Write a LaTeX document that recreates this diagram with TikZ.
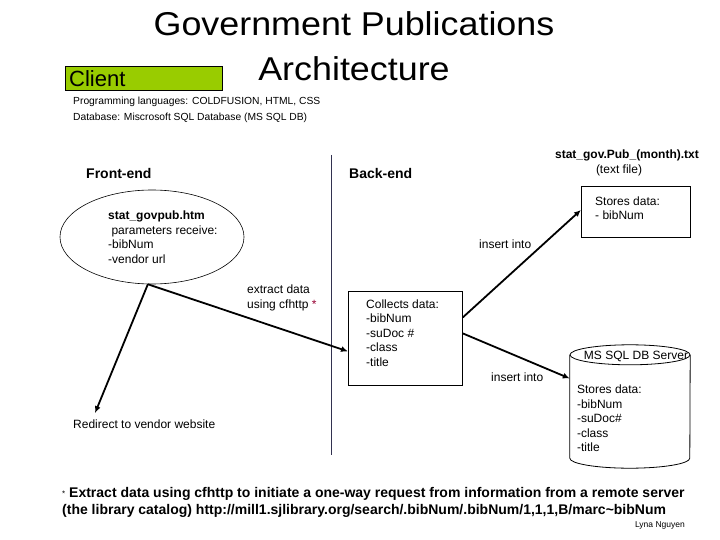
\documentclass[tikz,border=0pt]{standalone}
\usepackage{fontspec}
\setmainfont{Liberation Sans}
\usepackage{tikz}
\usetikzlibrary{shapes.geometric, arrows.meta, positioning, calc}
\definecolor{clientgreen}{RGB}{153,204,0}
\definecolor{divider}{RGB}{50,50,80}
\definecolor{starred}{RGB}{150,0,50}
\tikzset{
  txt/.style={anchor=base west, inner sep=0pt, font=\fontsize{12}{14.5}\selectfont, align=left},
  smalltxt/.style={anchor=base west, inner sep=0pt, font=\fontsize{10.3}{12}\selectfont},
  heading/.style={anchor=base west, inner sep=0pt, font=\fontsize{14}{16}\selectfont\bfseries},
  databox/.style={rectangle, draw, line width=0.8pt, anchor=north west, inner sep=0pt},
  flow/.style={-{Latex[length=7pt,width=6pt]}, line width=1.8pt, color=black}
}

\begin{document}
\begin{tikzpicture}[x=1pt, y=-1pt]
  \useasboundingbox (0,0) rectangle (720,540);

  % Title and client tag
  \node[font=\fontsize{33}{45}\selectfont, align=center, anchor=base, inner sep=0pt] (title) at (354,81)
    {\scalebox{1.087}[1]{Government Publications}\\\scalebox{1.087}[1]{Architecture}};
  \node[draw, fill=clientgreen, line width=0.8pt, anchor=north west, minimum width=157, minimum height=24, inner sep=0pt] (client) at (65,66) {};
  \node[anchor=base west, inner sep=0pt, font=\fontsize{22}{24}\selectfont] (clientlbl) at (69,87) {Client};

  % Tools used
  \node[smalltxt] (langs) at (73,105) {Programming languages: COLDFUSION, HTML, CSS};
  \node[smalltxt] (dbase) at (73,121) {Database: Miscrosoft SQL Database (MS SQL DB)};

  % Front-end / Back-end split
  \node[heading] (fronthd) at (86,179) {Front-end};
  \node[heading] (backhd) at (349,179) {Back-end};
  \coordinate (divtop) at (331,155);
  \coordinate (divbot) at (331,455);
  \draw[divider, line width=1pt] (divtop) -- (divbot);

  % Front-end page
  \node[ellipse, draw, line width=0.6pt, minimum width=184, minimum height=94] (govpub) at (152,237) {};
  \node[txt] (govpubtxt) at (108,263)
    {\textbf{stat\_govpub.htm}\\ \ parameters receive:\\-bibNum\\-vendor url};
  \node[txt] (redirect) at (73,428) {Redirect to vendor website};
  \coordinate (redirtip) at ($(redirect.north west)+(22,-6)$);

  % Back-end collector
  \node[databox, minimum width=114, minimum height=94] (collect) at (348,291) {};
  \node[txt] (collecttxt) at ($(collect.north west)+(18,75)$)
    {Collects data:\\-bibNum\\-suDoc \#\\-class\\-title};
  \node[txt] (extract) at (247,308) {extract data\\using cfhttp {\color{starred}*}};

  % Text file store
  \node[anchor=base, inner sep=0pt, font=\fontsize{12}{14}\selectfont\bfseries] (txtname) at (627,159) {stat\_gov.Pub\_(month).txt};
  \node[txt, anchor=base] (txtkind) at (619,174) {(text file)};
  \node[databox, minimum width=109, minimum height=51] (txtfile) at (581,186) {};
  \node[txt] (txtfiletxt) at ($(txtfile.north west)+(14,34)$) {Stores data:\\- bibNum};

  % SQL server
  \node[minimum width=120, minimum height=123, inner sep=0pt] (sqldb) at (630,406.5) {};
  \draw[line width=0.8pt] ($(sqldb.north west)+(0,10)$) -- ($(sqldb.south west)+(0,-10)$)
    arc[start angle=180, end angle=0, x radius=60, y radius=10] -- ($(sqldb.north east)+(0,10)$);
  \draw[line width=0.8pt] ($(sqldb.north)+(0,10)$) ellipse [x radius=60, y radius=10];
  \node[txt, anchor=base] (sqlname) at ($(sqldb.north)+(6,14.5)$) {MS SQL DB Server};
  \node[txt] (sqldata) at ($(sqldb.north west)+(7,107)$) {Stores data:\\-bibNum\\-suDoc\#\\-class\\-title};

  % Flows
  \draw[flow] (govpub.265) -- (redirtip);
  \draw[flow] (govpub.265) -- ($(collect.west)+(0,13)$);
  \draw[flow] ($(collect.east)+(0,-21)$) -- ($(txtfile.west)+(0,-2)$);
  \node[txt] (ins1) at (479,248) {insert into};
  \draw[flow] ($(collect.east)+(0,-5)$) -- ($(sqldb.west)+(0,-28)$);
  \node[txt] (ins2) at (491,381) {insert into};

  % Footnote
  \node[anchor=base west, inner sep=0pt, align=left, font=\fontsize{14}{17}\selectfont\bfseries] (note) at (62,514)
    {\raisebox{1pt}{\mdseries\fontsize{8}{8}\selectfont*} Extract data using cfhttp to initiate a one-way request from information from a remote server\\
     (the library catalog) http://mill1.sjlibrary.org/search/.bibNum/.bibNum/1,1,1,B/marc\textasciitilde bibNum};
  \node[anchor=base east, inner sep=0pt, font=\fontsize{8.5}{9}\selectfont] (author) at (685,527) {Lyna Nguyen};
\end{tikzpicture}
\end{document}
